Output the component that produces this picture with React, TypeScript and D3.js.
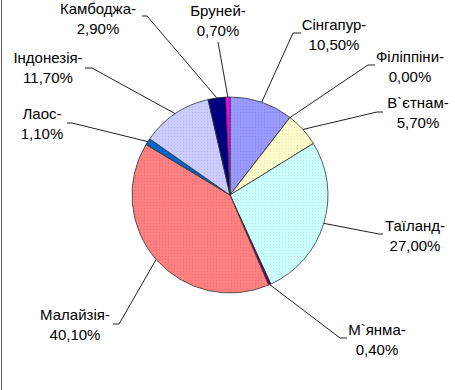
import React, { useEffect, useRef } from 'react';
import * as d3 from 'd3';

// slices, clockwise from 12 o'clock
const countries = [
  'Сінгапур',
  'Філіппіни',
  'В`єтнам',
  'Таїланд',
  'М`янма',
  'Малайзія',
  'Лаос',
  'Індонезія',
  'Камбоджа',
  'Бруней',
];
const shares = [10.5, 0.0, 5.7, 27.0, 0.4, 40.1, 1.1, 11.7, 2.9, 0.7];
const shareLabels = ['10,50%', '0,00%', '5,70%', '27,00%', '0,40%', '40,10%', '1,10%', '11,70%', '2,90%', '0,70%'];
const colors = ['#9999FF', '#FFFFCC', '#FFFFCC', '#CCFFFF', '#660066', '#FF8080', '#0066CC', '#CCCCFF', '#000080', '#FF00FF'];

// label placement (label centre x, first baseline y) and leader anchor with elbow side
const labelLayout: Record<string, { at: [number, number]; lead: [number, number]; elbow: number }> = {
  'Сінгапур': { at: [334, 30], lead: [301, 33], elbow: -8 },
  'Філіппіни': { at: [410, 62], lead: [375, 65], elbow: -7 },
  'В`єтнам': { at: [418, 108], lead: [383, 112], elbow: -6 },
  'Таїланд': { at: [415, 231], lead: [383, 234], elbow: -4 },
  'М`янма': { at: [377, 335], lead: [347, 338], elbow: -7 },
  'Малайзія': { at: [75, 320], lead: [113, 324], elbow: 6 },
  'Лаос': { at: [42, 119], lead: [67, 123], elbow: 5 },
  'Індонезія': { at: [48, 63], lead: [85, 68], elbow: 7 },
  'Камбоджа': { at: [98, 14], lead: [142, 16], elbow: 5 },
  'Бруней': { at: [218, 16], lead: [218, 42], elbow: 0 },
};

export default function App() {
  const ref = useRef<SVGSVGElement>(null);

  useEffect(() => {
    if (!ref.current) return;
    const width = 455;
    const height = 390;
    const cx = 230;
    const cy = 195;
    const radius = 98;

    const svg = d3.select(ref.current);
    svg.selectAll('*').remove();

    svg.append('rect').attr('width', width).attr('height', height).attr('fill', '#fff');
    svg.append('line').attr('x1', 1.5).attr('x2', 1.5).attr('y1', 0).attr('y2', height)
      .attr('stroke', '#555').attr('stroke-width', 1);

    const data = countries.map((c, i) => ({ name: c, value: shares[i], label: shareLabels[i], color: colors[i] }));

    // speckle texture like the original fill
    const defs = svg.append('defs');
    data.forEach((d, i) => {
      const p = defs.append('pattern').attr('id', `pat${i}`).attr('width', 3).attr('height', 3)
        .attr('patternUnits', 'userSpaceOnUse');
      p.append('rect').attr('width', 3).attr('height', 3).attr('fill', d.color);
      p.append('rect').attr('x', 1).attr('y', 1).attr('width', 1).attr('height', 1)
        .attr('fill', d3.color(d.color)!.darker(0.6).toString()).attr('opacity', 0.5);
    });

    const pie = d3.pie<typeof data[number]>().value((d) => d.value).sort(null);
    const arcs = pie(data);
    const arc = d3.arc<d3.PieArcDatum<typeof data[number]>>().innerRadius(0).outerRadius(radius);

    const g = svg.append('g').attr('transform', `translate(${cx},${cy})`);
    g.selectAll('path')
      .data(arcs)
      .join('path')
      .attr('d', arc)
      .attr('fill', (d, i) => `url(#pat${i})`)
      .attr('stroke', '#333')
      .attr('stroke-width', 0.8)
      .attr('stroke-linejoin', 'round');

    // leader lines
    const lines = svg.append('g').attr('fill', 'none').attr('stroke', '#222').attr('stroke-width', 1);
    arcs.forEach((a) => {
      const lay = labelLayout[a.data.name];
      const mid = (a.startAngle + a.endAngle) / 2;
      const ex = cx + radius * Math.sin(mid);
      const ey = cy - radius * Math.cos(mid);
      const pts: [number, number][] = [lay.lead];
      if (lay.elbow) pts.push([lay.lead[0] + lay.elbow, lay.lead[1]]);
      pts.push([ex, ey]);
      lines.append('path').attr('d', d3.line()(pts));
    });

    // labels
    const labels = svg.append('g')
      .attr('font-family', '"Liberation Sans", Arial, sans-serif')
      .attr('font-size', 15)
      .attr('fill', '#000')
      .attr('text-anchor', 'middle');
    data.forEach((d) => {
      const [lx, ly] = labelLayout[d.name].at;
      labels.append('text').attr('x', lx).attr('y', ly).text(`${d.name}-`);
      labels.append('text').attr('x', lx).attr('y', ly + 20).text(d.label);
    });
  }, []);

  return (
    <svg
      ref={ref}
      width={455}
      height={390}
      style={{ position: 'absolute', left: 0, top: 0, display: 'block' }}
    />
  );
}
